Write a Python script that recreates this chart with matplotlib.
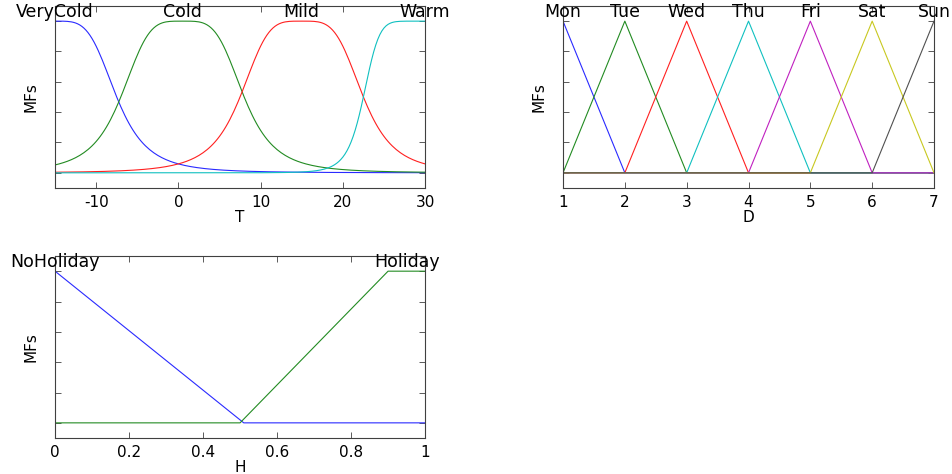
import matplotlib
matplotlib.use("Agg")
import matplotlib.pyplot as plt
import numpy as np

# membership function data
t_names = ["VeryCold", "Cold", "Mild", "Warm"]
t_a = [7.5, 7.5, 7.5, 7.5]
t_b = [2.0, 2.0, 2.0, 3.75]
t_c = [-15.0, 0.5, 15.0, 30.0]
t_range = [-15, 30]
t_ticks = [-10, 0, 10, 20, 30]

d_names = ["Mon", "Tue", "Wed", "Thu", "Fri", "Sat", "Sun"]
d_peaks = [1, 2, 3, 4, 5, 6, 7]
d_range = [1, 7]
d_ticks = [1, 2, 3, 4, 5, 6, 7]

h_names = ["NoHoliday", "Holiday"]
h_x = [[0.0, 0.51, 1.0], [0.0, 0.5, 0.9, 1.0]]
h_y = [[1.0, 0.0, 0.0], [0.0, 0.0, 1.0, 1.0]]
h_range = [0, 1]
h_ticks = [0, 0.2, 0.4, 0.6, 0.8, 1]

colors = ["#2a2aff", "#228b22", "#ff2020", "#10c0c0", "#c020c0", "#c8c820", "#505050"]

plt.rcParams["font.family"] = ["DejaVu Sans"]


def style(ax, xr, xticks, xlabel):
    ax.set_xlim(xr)
    ax.set_ylim(-0.1, 1.1)
    ax.set_xticks(xticks)
    ax.set_xticklabels([f"{v:g}" for v in xticks])
    ax.set_yticks([0, 0.2, 0.4, 0.6, 0.8, 1])
    ax.set_yticklabels([])
    ax.tick_params(direction="in", top=True, right=True, length=4, width=0.6,
                   labelsize=11, pad=5, color="#404040")
    for s in ax.spines.values():
        s.set_color("#404040")
        s.set_linewidth(0.8)
    ax.set_xlabel(xlabel, fontsize=11, labelpad=0)
    ax.set_ylabel("MFs", fontsize=11)
    ax.yaxis.set_label_coords(-0.045, 0.5)


def label(ax, x, text):
    ax.text(x, 1.0, text, ha="center", va="bottom", fontsize=12.5, clip_on=False)


fig = plt.figure(figsize=(9.52, 4.74), dpi=100)
ax1 = fig.add_axes([0.0578, 0.6034, 0.3887, 0.384])
ax2 = fig.add_axes([0.5914, 0.6034, 0.3897, 0.384])
ax3 = fig.add_axes([0.0578, 0.0759, 0.3887, 0.384])

# T: generalized bell curves
x = np.linspace(t_range[0], t_range[1], 181)
for i, name in enumerate(t_names):
    y = 1.0 / (1.0 + np.abs((x - t_c[i]) / t_a[i]) ** (2 * t_b[i]))
    ax1.plot(x, y, color=colors[i], lw=0.8)
    label(ax1, t_c[i], name)
style(ax1, t_range, t_ticks, "T")

# D: triangles
x = np.linspace(d_range[0], d_range[1], 601)
for i, name in enumerate(d_names):
    p = d_peaks[i]
    y = np.interp(x, [p - 1, p, p + 1], [0, 1, 0])
    ax2.plot(x, y, color=colors[i], lw=0.8)
    label(ax2, p, name)
style(ax2, d_range, d_ticks, "D")

# H: piecewise linear
for i, name in enumerate(h_names):
    ax3.plot(h_x[i], h_y[i], color=colors[i], lw=0.8)
    top = [xx for xx, yy in zip(h_x[i], h_y[i]) if yy == 1.0]
    label(ax3, np.mean(top), name)
style(ax3, h_range, h_ticks, "H")

fig.savefig("out.png", dpi=100)
